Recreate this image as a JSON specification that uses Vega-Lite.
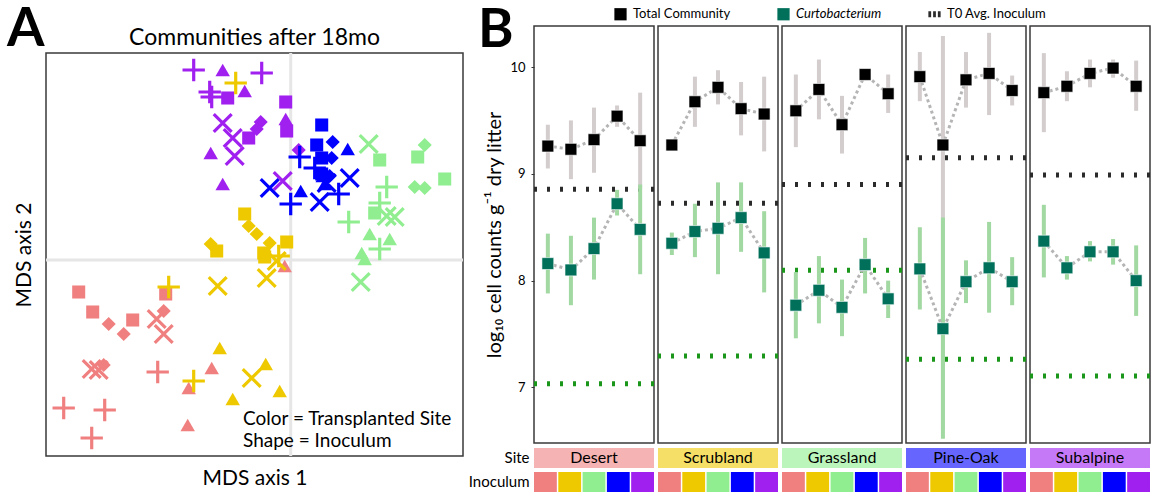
{
  "$schema": "https://vega.github.io/schema/vega-lite/v6.json",
  "padding": {"left": 6, "top": 2, "right": 0, "bottom": 0},
  "config": {
    "font": "Lato",
    "view": {"stroke": "#3a3a3a", "strokeWidth": 1.5},
    "axis": {"labelColor": "#000000", "titleColor": "#000000"},
    "title": {"color": "#000000"},
    "legend": {"labelColor": "#000000", "titleColor": "#000000"}
  },
  "datasets": {
    "mds": [
      {"site":"Subalpine","inoc":"Pine-Oak","mds1":-0.97,"mds2":1.90},
      {"site":"Subalpine","inoc":"Grassland","mds1":-0.68,"mds2":1.90},
      {"site":"Subalpine","inoc":"Pine-Oak","mds1":-0.29,"mds2":1.87},
      {"site":"Subalpine","inoc":"Pine-Oak","mds1":-0.81,"mds2":1.68},
      {"site":"Subalpine","inoc":"Pine-Oak","mds1":-0.79,"mds2":1.63},
      {"site":"Subalpine","inoc":"Desert","mds1":-0.63,"mds2":1.62},
      {"site":"Subalpine","inoc":"Grassland","mds1":-0.46,"mds2":1.69},
      {"site":"Subalpine","inoc":"Desert","mds1":-0.05,"mds2":1.58},
      {"site":"Subalpine","inoc":"Subalpine","mds1":-0.68,"mds2":1.37},
      {"site":"Subalpine","inoc":"Scrubland","mds1":-0.30,"mds2":1.38},
      {"site":"Subalpine","inoc":"Scrubland","mds1":-0.34,"mds2":1.31},
      {"site":"Subalpine","inoc":"Grassland","mds1":-0.05,"mds2":1.41},
      {"site":"Subalpine","inoc":"Desert","mds1":-0.04,"mds2":1.29},
      {"site":"Subalpine","inoc":"Subalpine","mds1":-0.58,"mds2":1.22},
      {"site":"Subalpine","inoc":"Desert","mds1":-0.42,"mds2":1.22},
      {"site":"Subalpine","inoc":"Grassland","mds1":-0.80,"mds2":1.07},
      {"site":"Subalpine","inoc":"Subalpine","mds1":-0.56,"mds2":1.04},
      {"site":"Subalpine","inoc":"Grassland","mds1":-0.68,"mds2":0.76},
      {"site":"Subalpine","inoc":"Subalpine","mds1":-0.08,"mds2":0.79},
      {"site":"Subalpine","inoc":"Scrubland","mds1":0.08,"mds2":1.10},
      {"site":"Pine-Oak","inoc":"Desert","mds1":0.31,"mds2":1.35},
      {"site":"Pine-Oak","inoc":"Desert","mds1":0.26,"mds2":1.15},
      {"site":"Pine-Oak","inoc":"Scrubland","mds1":0.42,"mds2":1.18},
      {"site":"Pine-Oak","inoc":"Grassland","mds1":0.57,"mds2":1.11},
      {"site":"Pine-Oak","inoc":"Pine-Oak","mds1":0.09,"mds2":1.03},
      {"site":"Pine-Oak","inoc":"Desert","mds1":0.31,"mds2":1.02},
      {"site":"Pine-Oak","inoc":"Scrubland","mds1":0.41,"mds2":1.02},
      {"site":"Pine-Oak","inoc":"Pine-Oak","mds1":0.24,"mds2":0.92},
      {"site":"Pine-Oak","inoc":"Desert","mds1":0.31,"mds2":0.86},
      {"site":"Pine-Oak","inoc":"Grassland","mds1":0.32,"mds2":0.84},
      {"site":"Pine-Oak","inoc":"Grassland","mds1":0.34,"mds2":0.76},
      {"site":"Pine-Oak","inoc":"Subalpine","mds1":0.59,"mds2":0.82},
      {"site":"Pine-Oak","inoc":"Subalpine","mds1":-0.21,"mds2":0.72},
      {"site":"Pine-Oak","inoc":"Grassland","mds1":0.10,"mds2":0.69},
      {"site":"Pine-Oak","inoc":"Subalpine","mds1":0.36,"mds2":0.77},
      {"site":"Pine-Oak","inoc":"Pine-Oak","mds1":0.48,"mds2":0.66},
      {"site":"Pine-Oak","inoc":"Subalpine","mds1":0.29,"mds2":0.58},
      {"site":"Pine-Oak","inoc":"Pine-Oak","mds1":0.00,"mds2":0.56},
      {"site":"Pine-Oak","inoc":"Scrubland","mds1":0.39,"mds2":0.84},
      {"site":"Grassland","inoc":"Subalpine","mds1":0.78,"mds2":1.16},
      {"site":"Grassland","inoc":"Desert","mds1":0.89,"mds2":1.00},
      {"site":"Grassland","inoc":"Desert","mds1":1.27,"mds2":1.03},
      {"site":"Grassland","inoc":"Scrubland","mds1":1.34,"mds2":1.15},
      {"site":"Grassland","inoc":"Desert","mds1":1.54,"mds2":0.81},
      {"site":"Grassland","inoc":"Scrubland","mds1":1.24,"mds2":0.73},
      {"site":"Grassland","inoc":"Scrubland","mds1":1.34,"mds2":0.72},
      {"site":"Grassland","inoc":"Pine-Oak","mds1":0.96,"mds2":0.73},
      {"site":"Grassland","inoc":"Pine-Oak","mds1":0.58,"mds2":0.38},
      {"site":"Grassland","inoc":"Desert","mds1":0.84,"mds2":0.47},
      {"site":"Grassland","inoc":"Pine-Oak","mds1":0.89,"mds2":0.57},
      {"site":"Grassland","inoc":"Subalpine","mds1":0.96,"mds2":0.44},
      {"site":"Grassland","inoc":"Subalpine","mds1":1.04,"mds2":0.43},
      {"site":"Grassland","inoc":"Grassland","mds1":0.79,"mds2":0.26},
      {"site":"Grassland","inoc":"Grassland","mds1":0.99,"mds2":0.21},
      {"site":"Grassland","inoc":"Pine-Oak","mds1":0.89,"mds2":0.11},
      {"site":"Grassland","inoc":"Grassland","mds1":0.71,"mds2":0.07},
      {"site":"Grassland","inoc":"Grassland","mds1":0.74,"mds2":0.01},
      {"site":"Grassland","inoc":"Subalpine","mds1":0.70,"mds2":-0.22},
      {"site":"Scrubland","inoc":"Pine-Oak","mds1":-0.55,"mds2":1.77},
      {"site":"Scrubland","inoc":"Desert","mds1":-0.46,"mds2":0.46},
      {"site":"Scrubland","inoc":"Scrubland","mds1":-0.42,"mds2":0.34},
      {"site":"Scrubland","inoc":"Scrubland","mds1":-0.34,"mds2":0.26},
      {"site":"Scrubland","inoc":"Scrubland","mds1":-0.80,"mds2":0.16},
      {"site":"Scrubland","inoc":"Desert","mds1":-0.74,"mds2":0.09},
      {"site":"Scrubland","inoc":"Desert","mds1":-0.04,"mds2":0.18},
      {"site":"Scrubland","inoc":"Scrubland","mds1":-0.21,"mds2":0.17},
      {"site":"Scrubland","inoc":"Desert","mds1":-0.27,"mds2":0.07},
      {"site":"Scrubland","inoc":"Desert","mds1":-0.26,"mds2":0.03},
      {"site":"Scrubland","inoc":"Pine-Oak","mds1":-0.12,"mds2":0.04},
      {"site":"Scrubland","inoc":"Subalpine","mds1":-0.14,"mds2":-0.01},
      {"site":"Scrubland","inoc":"Pine-Oak","mds1":-1.22,"mds2":-0.27},
      {"site":"Scrubland","inoc":"Subalpine","mds1":-0.73,"mds2":-0.26},
      {"site":"Scrubland","inoc":"Subalpine","mds1":-0.24,"mds2":-0.18},
      {"site":"Scrubland","inoc":"Grassland","mds1":-0.71,"mds2":-0.88},
      {"site":"Scrubland","inoc":"Grassland","mds1":-0.25,"mds2":-1.04},
      {"site":"Scrubland","inoc":"Subalpine","mds1":-0.39,"mds2":-1.18},
      {"site":"Scrubland","inoc":"Pine-Oak","mds1":-0.97,"mds2":-1.21},
      {"site":"Scrubland","inoc":"Grassland","mds1":-0.58,"mds2":-1.39},
      {"site":"Scrubland","inoc":"Grassland","mds1":-0.11,"mds2":-1.31},
      {"site":"Desert","inoc":"Grassland","mds1":-0.06,"mds2":-0.06},
      {"site":"Desert","inoc":"Desert","mds1":-2.12,"mds2":-0.32},
      {"site":"Desert","inoc":"Desert","mds1":-1.98,"mds2":-0.52},
      {"site":"Desert","inoc":"Desert","mds1":-1.25,"mds2":-0.34},
      {"site":"Desert","inoc":"Scrubland","mds1":-1.82,"mds2":-0.64},
      {"site":"Desert","inoc":"Desert","mds1":-1.58,"mds2":-0.60},
      {"site":"Desert","inoc":"Scrubland","mds1":-1.67,"mds2":-0.74},
      {"site":"Desert","inoc":"Subalpine","mds1":-1.34,"mds2":-0.59},
      {"site":"Desert","inoc":"Scrubland","mds1":-1.27,"mds2":-0.51},
      {"site":"Desert","inoc":"Subalpine","mds1":-1.27,"mds2":-0.74},
      {"site":"Desert","inoc":"Subalpine","mds1":-1.99,"mds2":-1.09},
      {"site":"Desert","inoc":"Subalpine","mds1":-1.92,"mds2":-1.10},
      {"site":"Desert","inoc":"Scrubland","mds1":-1.87,"mds2":-1.05},
      {"site":"Desert","inoc":"Pine-Oak","mds1":-1.33,"mds2":-1.12},
      {"site":"Desert","inoc":"Grassland","mds1":-0.79,"mds2":-1.08},
      {"site":"Desert","inoc":"Grassland","mds1":-1.02,"mds2":-1.28},
      {"site":"Desert","inoc":"Pine-Oak","mds1":-2.27,"mds2":-1.48},
      {"site":"Desert","inoc":"Pine-Oak","mds1":-1.86,"mds2":-1.50},
      {"site":"Desert","inoc":"Pine-Oak","mds1":-1.99,"mds2":-1.78},
      {"site":"Desert","inoc":"Grassland","mds1":-1.03,"mds2":-1.65}
    ],
    "cells": [
      {"site":"Desert","inoc":"Desert","series":"Total Community","mean":9.26,"lo":9.05,"hi":9.46},
      {"site":"Desert","inoc":"Scrubland","series":"Total Community","mean":9.23,"lo":8.95,"hi":9.50},
      {"site":"Desert","inoc":"Grassland","series":"Total Community","mean":9.32,"lo":9.01,"hi":9.62},
      {"site":"Desert","inoc":"Pine-Oak","series":"Total Community","mean":9.54,"lo":9.44,"hi":9.64},
      {"site":"Desert","inoc":"Subalpine","series":"Total Community","mean":9.31,"lo":8.86,"hi":9.76},
      {"site":"Desert","inoc":"Desert","series":"Curtobacterium","mean":8.16,"lo":7.88,"hi":8.44},
      {"site":"Desert","inoc":"Scrubland","series":"Curtobacterium","mean":8.10,"lo":7.77,"hi":8.42},
      {"site":"Desert","inoc":"Grassland","series":"Curtobacterium","mean":8.30,"lo":8.01,"hi":8.59},
      {"site":"Desert","inoc":"Pine-Oak","series":"Curtobacterium","mean":8.72,"lo":8.61,"hi":8.85},
      {"site":"Desert","inoc":"Subalpine","series":"Curtobacterium","mean":8.48,"lo":8.06,"hi":8.90},
      {"site":"Scrubland","inoc":"Desert","series":"Total Community","mean":9.27,"lo":9.25,"hi":9.29},
      {"site":"Scrubland","inoc":"Scrubland","series":"Total Community","mean":9.675,"lo":9.44,"hi":9.91},
      {"site":"Scrubland","inoc":"Grassland","series":"Total Community","mean":9.81,"lo":9.65,"hi":9.97},
      {"site":"Scrubland","inoc":"Pine-Oak","series":"Total Community","mean":9.61,"lo":9.36,"hi":9.86},
      {"site":"Scrubland","inoc":"Subalpine","series":"Total Community","mean":9.56,"lo":9.21,"hi":9.91},
      {"site":"Scrubland","inoc":"Desert","series":"Curtobacterium","mean":8.35,"lo":8.24,"hi":8.45},
      {"site":"Scrubland","inoc":"Scrubland","series":"Curtobacterium","mean":8.46,"lo":8.22,"hi":8.72},
      {"site":"Scrubland","inoc":"Grassland","series":"Curtobacterium","mean":8.49,"lo":8.06,"hi":8.92},
      {"site":"Scrubland","inoc":"Pine-Oak","series":"Curtobacterium","mean":8.59,"lo":8.27,"hi":8.92},
      {"site":"Scrubland","inoc":"Subalpine","series":"Curtobacterium","mean":8.26,"lo":7.89,"hi":8.65},
      {"site":"Grassland","inoc":"Desert","series":"Total Community","mean":9.59,"lo":9.25,"hi":9.93},
      {"site":"Grassland","inoc":"Scrubland","series":"Total Community","mean":9.79,"lo":9.51,"hi":10.07},
      {"site":"Grassland","inoc":"Grassland","series":"Total Community","mean":9.46,"lo":9.19,"hi":9.73},
      {"site":"Grassland","inoc":"Pine-Oak","series":"Total Community","mean":9.93,"lo":9.91,"hi":9.95},
      {"site":"Grassland","inoc":"Subalpine","series":"Total Community","mean":9.75,"lo":9.57,"hi":9.93},
      {"site":"Grassland","inoc":"Desert","series":"Curtobacterium","mean":7.77,"lo":7.46,"hi":8.08},
      {"site":"Grassland","inoc":"Scrubland","series":"Curtobacterium","mean":7.91,"lo":7.60,"hi":8.23},
      {"site":"Grassland","inoc":"Grassland","series":"Curtobacterium","mean":7.75,"lo":7.48,"hi":8.01},
      {"site":"Grassland","inoc":"Pine-Oak","series":"Curtobacterium","mean":8.15,"lo":7.88,"hi":8.40},
      {"site":"Grassland","inoc":"Subalpine","series":"Curtobacterium","mean":7.83,"lo":7.65,"hi":8.00},
      {"site":"Pine-Oak","inoc":"Desert","series":"Total Community","mean":9.91,"lo":9.68,"hi":10.14},
      {"site":"Pine-Oak","inoc":"Scrubland","series":"Total Community","mean":9.27,"lo":6.60,"hi":10.29},
      {"site":"Pine-Oak","inoc":"Grassland","series":"Total Community","mean":9.88,"lo":9.62,"hi":10.14},
      {"site":"Pine-Oak","inoc":"Pine-Oak","series":"Total Community","mean":9.94,"lo":9.55,"hi":10.32},
      {"site":"Pine-Oak","inoc":"Subalpine","series":"Total Community","mean":9.78,"lo":9.64,"hi":9.92},
      {"site":"Pine-Oak","inoc":"Desert","series":"Curtobacterium","mean":8.11,"lo":7.73,"hi":8.50},
      {"site":"Pine-Oak","inoc":"Scrubland","series":"Curtobacterium","mean":7.55,"lo":6.52,"hi":8.59},
      {"site":"Pine-Oak","inoc":"Grassland","series":"Curtobacterium","mean":7.99,"lo":7.79,"hi":8.19},
      {"site":"Pine-Oak","inoc":"Pine-Oak","series":"Curtobacterium","mean":8.12,"lo":7.70,"hi":8.55},
      {"site":"Pine-Oak","inoc":"Subalpine","series":"Curtobacterium","mean":7.99,"lo":7.77,"hi":8.22},
      {"site":"Subalpine","inoc":"Desert","series":"Total Community","mean":9.76,"lo":9.39,"hi":10.13},
      {"site":"Subalpine","inoc":"Scrubland","series":"Total Community","mean":9.82,"lo":9.68,"hi":9.96},
      {"site":"Subalpine","inoc":"Grassland","series":"Total Community","mean":9.94,"lo":9.81,"hi":10.07},
      {"site":"Subalpine","inoc":"Pine-Oak","series":"Total Community","mean":9.99,"lo":9.90,"hi":10.07},
      {"site":"Subalpine","inoc":"Subalpine","series":"Total Community","mean":9.82,"lo":9.59,"hi":10.06},
      {"site":"Subalpine","inoc":"Desert","series":"Curtobacterium","mean":8.37,"lo":8.03,"hi":8.71},
      {"site":"Subalpine","inoc":"Scrubland","series":"Curtobacterium","mean":8.12,"lo":8.01,"hi":8.23},
      {"site":"Subalpine","inoc":"Grassland","series":"Curtobacterium","mean":8.27,"lo":8.18,"hi":8.37},
      {"site":"Subalpine","inoc":"Pine-Oak","series":"Curtobacterium","mean":8.27,"lo":8.15,"hi":8.39},
      {"site":"Subalpine","inoc":"Subalpine","series":"Curtobacterium","mean":8.00,"lo":7.67,"hi":8.33},
      {"site":"Desert","series":"Total Community","t0":8.855},
      {"site":"Desert","series":"Curtobacterium","t0":7.035},
      {"site":"Scrubland","series":"Total Community","t0":8.724},
      {"site":"Scrubland","series":"Curtobacterium","t0":7.294},
      {"site":"Grassland","series":"Total Community","t0":8.90},
      {"site":"Grassland","series":"Curtobacterium","t0":8.097},
      {"site":"Pine-Oak","series":"Total Community","t0":9.15},
      {"site":"Pine-Oak","series":"Curtobacterium","t0":7.263},
      {"site":"Subalpine","series":"Total Community","t0":8.989},
      {"site":"Subalpine","series":"Curtobacterium","t0":7.107}
    ],
    "sites": [
      {"site":"Desert"},{"site":"Scrubland"},{"site":"Grassland"},{"site":"Pine-Oak"},{"site":"Subalpine"}
    ],
    "grid": [
      {"site":"Desert","inoc":"Desert"},{"site":"Desert","inoc":"Scrubland"},{"site":"Desert","inoc":"Grassland"},{"site":"Desert","inoc":"Pine-Oak"},{"site":"Desert","inoc":"Subalpine"},
      {"site":"Scrubland","inoc":"Desert"},{"site":"Scrubland","inoc":"Scrubland"},{"site":"Scrubland","inoc":"Grassland"},{"site":"Scrubland","inoc":"Pine-Oak"},{"site":"Scrubland","inoc":"Subalpine"},
      {"site":"Grassland","inoc":"Desert"},{"site":"Grassland","inoc":"Scrubland"},{"site":"Grassland","inoc":"Grassland"},{"site":"Grassland","inoc":"Pine-Oak"},{"site":"Grassland","inoc":"Subalpine"},
      {"site":"Pine-Oak","inoc":"Desert"},{"site":"Pine-Oak","inoc":"Scrubland"},{"site":"Pine-Oak","inoc":"Grassland"},{"site":"Pine-Oak","inoc":"Pine-Oak"},{"site":"Pine-Oak","inoc":"Subalpine"},
      {"site":"Subalpine","inoc":"Desert"},{"site":"Subalpine","inoc":"Scrubland"},{"site":"Subalpine","inoc":"Grassland"},{"site":"Subalpine","inoc":"Pine-Oak"},{"site":"Subalpine","inoc":"Subalpine"}
    ]
  },
  "resolve": {"scale": {"color": "independent", "x": "independent", "y": "independent", "fill": "independent"}},
  "spacing": 2,
  "hconcat": [
    {
      "spacing": 4,
      "bounds": "flush",
      "vconcat": [
        {
          "width": 417,
          "height": 23,
          "view": {"stroke": null},
          "data": {"values": [{}]},
          "title": {"text": "A", "orient": "left", "angle": 0, "align": "right", "baseline": "alphabetic", "anchor": "middle", "fontSize": 54, "fontWeight": "bold", "offset": -36, "dy": 8},
          "mark": {"type": "text", "text": "Communities after 18mo", "fontSize": 23, "baseline": "middle", "color": "#000000"}
        },
        {
          "width": 417,
          "height": 403,
          "layer": [
            {
              "data": {"values": [{}]},
              "mark": {"type": "rule", "color": "#e6e6e6", "strokeWidth": 3},
              "encoding": {
                "x": {"datum": 0, "type": "quantitative", "title": "MDS axis 1", "scale": {"domain": [-2.447, 1.723], "nice": false, "zero": false},
                      "axis": {"labels": false, "ticks": false, "domain": false, "grid": false, "titleFontSize": 21, "titleFontWeight": "normal", "titlePadding": 11}}
              }
            },
            {
              "data": {"values": [{}]},
              "mark": {"type": "rule", "color": "#e6e6e6", "strokeWidth": 3},
              "encoding": {
                "y": {"datum": 0, "type": "quantitative", "title": "MDS axis 2", "scale": {"domain": [-1.96, 2.07], "nice": false, "zero": false},
                      "axis": {"labels": false, "ticks": false, "domain": false, "grid": false, "titleFontSize": 21, "titleFontWeight": "normal", "titlePadding": 12}}
              }
            },
            {
              "data": {"name": "mds"},
              "transform": [{"filter": "datum.inoc == 'Desert'"}],
              "mark": {"type": "point", "shape": "square", "filled": true, "opacity": 1, "size": 170},
              "encoding": {
                "x": {"field": "mds1", "type": "quantitative", "title": "MDS axis 1"},
                "y": {"field": "mds2", "type": "quantitative", "title": "MDS axis 2"},
                "color": {"field": "site", "type": "nominal", "scale": {"domain": ["Desert","Scrubland","Grassland","Pine-Oak","Subalpine"], "range": ["#F08080","#EEC900","#90EE90","#0000FF","#A020F0"]}, "legend": null}
              }
            },
            {
              "data": {"name": "mds"},
              "transform": [{"filter": "datum.inoc == 'Scrubland'"}],
              "mark": {"type": "point", "shape": "diamond", "filled": true, "opacity": 1, "size": 200},
              "encoding": {
                "x": {"field": "mds1", "type": "quantitative", "title": "MDS axis 1"},
                "y": {"field": "mds2", "type": "quantitative", "title": "MDS axis 2"},
                "color": {"field": "site", "type": "nominal", "legend": null}
              }
            },
            {
              "data": {"name": "mds"},
              "transform": [{"filter": "datum.inoc == 'Grassland'"}],
              "mark": {"type": "point", "shape": "triangle-up", "filled": true, "opacity": 1, "size": 210},
              "encoding": {
                "x": {"field": "mds1", "type": "quantitative", "title": "MDS axis 1"},
                "y": {"field": "mds2", "type": "quantitative", "title": "MDS axis 2"},
                "color": {"field": "site", "type": "nominal", "legend": null}
              }
            },
            {
              "data": {"name": "mds"},
              "transform": [{"filter": "datum.inoc == 'Pine-Oak'"}],
              "mark": {"type": "point", "shape": "M-1,0H1M0,-1V1", "filled": false, "opacity": 1, "size": 500, "strokeWidth": 3.2},
              "encoding": {
                "x": {"field": "mds1", "type": "quantitative", "title": "MDS axis 1"},
                "y": {"field": "mds2", "type": "quantitative", "title": "MDS axis 2"},
                "color": {"field": "site", "type": "nominal", "legend": null}
              }
            },
            {
              "data": {"name": "mds"},
              "transform": [{"filter": "datum.inoc == 'Subalpine'"}],
              "mark": {"type": "point", "shape": "M-0.8,-0.8L0.8,0.8M-0.8,0.8L0.8,-0.8", "filled": false, "opacity": 1, "size": 500, "strokeWidth": 3.2},
              "encoding": {
                "x": {"field": "mds1", "type": "quantitative", "title": "MDS axis 1"},
                "y": {"field": "mds2", "type": "quantitative", "title": "MDS axis 2"},
                "color": {"field": "site", "type": "nominal", "legend": null}
              }
            },
            {
              "data": {"values": [{}]},
              "mark": {"type": "text", "align": "left", "baseline": "middle", "fontSize": 19, "lineHeight": 22, "color": "#000000"},
              "encoding": {
                "x": {"datum": -0.477, "type": "quantitative"},
                "y": {"datum": -1.59, "type": "quantitative"},
                "text": {"value": ["Color = Transplanted Site", "Shape = Inoculum"]}
              }
            }
          ]
        }
      ]
    },
    {
      "resolve": {"scale": {"x": "independent", "y": "independent", "fill": "independent", "color": "independent"}},
      "spacing": 4,
      "vconcat": [
        {
          "data": {"name": "cells"},
          "facet": {"column": {"field": "site", "type": "nominal", "sort": ["Desert","Scrubland","Grassland","Pine-Oak","Subalpine"], "header": null}},
          "spacing": {"column": 4},
          "bounds": "flush",
          "spec": {
            "width": 120,
            "height": 417,
            "layer": [
              {
                "transform": [{"filter": "isValid(datum.t0) && datum.series == 'Total Community'"}],
                "mark": {"type": "rule", "strokeDash": [3, 10], "strokeWidth": 5, "color": "#2b2b2b"},
                "encoding": {
                  "y": {"field": "t0", "type": "quantitative", "title": "log₁₀ cell counts g⁻¹ dry litter",
                        "scale": {"domain": [6.48, 10.384], "nice": false, "zero": false},
                        "axis": {"values": [7, 8, 9, 10], "format": "d", "grid": false, "domain": false, "tickSize": 3, "tickColor": "#333333", "labelFontSize": 13, "labelPadding": 6, "titleFontSize": 20, "titleFontWeight": "normal", "titlePadding": 5}}
                }
              },
              {
                "transform": [{"filter": "isValid(datum.t0) && datum.series == 'Curtobacterium'"}],
                "mark": {"type": "rule", "strokeDash": [3, 10], "strokeWidth": 5, "color": "#1a961a"},
                "encoding": {
                  "y": {"field": "t0", "type": "quantitative", "title": "log₁₀ cell counts g⁻¹ dry litter"}
                }
              },
              {
                "transform": [{"filter": "isValid(datum.mean) && datum.series == 'Total Community'"}],
                "mark": {"type": "rule", "strokeWidth": 4, "color": "#d3cdcd"},
                "encoding": {
                  "x": {"field": "inoc", "type": "nominal", "sort": ["Desert","Scrubland","Grassland","Pine-Oak","Subalpine"], "scale": {"type": "point", "padding": 0.6}, "axis": null},
                  "y": {"field": "lo", "type": "quantitative", "title": "log₁₀ cell counts g⁻¹ dry litter"},
                  "y2": {"field": "hi"}
                }
              },
              {
                "transform": [{"filter": "isValid(datum.mean) && datum.series == 'Curtobacterium'"}],
                "mark": {"type": "rule", "strokeWidth": 4, "color": "#a2d8a2"},
                "encoding": {
                  "x": {"field": "inoc", "type": "nominal", "sort": ["Desert","Scrubland","Grassland","Pine-Oak","Subalpine"], "axis": null},
                  "y": {"field": "lo", "type": "quantitative", "title": "log₁₀ cell counts g⁻¹ dry litter"},
                  "y2": {"field": "hi"}
                }
              },
              {
                "transform": [{"filter": "isValid(datum.mean)"}],
                "mark": {"type": "line", "strokeDash": [3, 3], "strokeWidth": 3, "color": "#b5b5b5"},
                "encoding": {
                  "x": {"field": "inoc", "type": "nominal", "sort": ["Desert","Scrubland","Grassland","Pine-Oak","Subalpine"], "axis": null},
                  "y": {"field": "mean", "type": "quantitative", "title": "log₁₀ cell counts g⁻¹ dry litter"},
                  "detail": {"field": "series", "type": "nominal"},
                  "order": {"value": null}
                }
              },
              {
                "transform": [{"filter": "isValid(datum.mean)"}],
                "mark": {"type": "point", "shape": "square", "filled": true, "opacity": 1, "size": 140, "stroke": "#ffffff", "strokeWidth": 0.6},
                "encoding": {
                  "x": {"field": "inoc", "type": "nominal", "sort": ["Desert","Scrubland","Grassland","Pine-Oak","Subalpine"], "axis": null},
                  "y": {"field": "mean", "type": "quantitative", "title": "log₁₀ cell counts g⁻¹ dry litter"},
                  "color": {"field": "series", "type": "nominal",
                            "scale": {"domain": ["Total Community", "Curtobacterium", "T0 Avg. Inoculum"], "range": ["#000000", "#00705a", "#2b2b2b"]},
                            "legend": {"title": "B", "titleOrient": "left", "titleFontSize": 54, "titleFontWeight": "bold", "titlePadding": 100, "titleBaseline": "line-top", "titleLineHeight": 47, "titleAnchor": "start", "titleLimit": 200,
                                       "orient": "none", "legendX": -56, "legendY": -18.5, "direction": "horizontal", "columns": 3, "symbolSize": 150, "labelFontSize": 13, "labelOffset": 6, "columnPadding": 46, "symbolStrokeWidth": 0,
                                       "symbolType": {"expr": "datum.value == 'T0 Avg. Inoculum' ? 'M-1,-0.5H-0.55V0.5H-1Z M-0.225,-0.5H0.225V0.5H-0.225Z M0.55,-0.5H1V0.5H0.55Z' : 'square'"},
                                       "labelFontStyle": {"expr": "datum.label == 'Curtobacterium' ? 'italic' : 'normal'"}}}
                }
              }
            ]
          }
        },
        {
          "data": {"name": "sites"},
          "width": 616,
          "height": 20,
          "view": {"stroke": null},
          "layer": [
            {
              "mark": {"type": "rect"},
              "encoding": {
                "x": {"field": "site", "type": "nominal", "sort": ["Desert","Scrubland","Grassland","Pine-Oak","Subalpine"], "scale": {"paddingInner": 0.0323, "paddingOuter": 0}, "axis": null},
                "y": {"datum": "Site", "type": "nominal", "axis": {"title": null, "domain": false, "ticks": false, "labelFontSize": 15, "labelPadding": 5}},
                "fill": {"field": "site", "type": "nominal", "scale": {"domain": ["Desert","Scrubland","Grassland","Pine-Oak","Subalpine"], "range": ["#F6B3B3","#F5DF66","#BCF5BC","#6666FF","#C679F6"]}, "legend": null}
              }
            },
            {
              "mark": {"type": "text", "fontSize": 16, "color": "#000000"},
              "encoding": {
                "x": {"field": "site", "type": "nominal", "sort": ["Desert","Scrubland","Grassland","Pine-Oak","Subalpine"]},
                "y": {"datum": "Site", "type": "nominal"},
                "text": {"field": "site"}
              }
            }
          ]
        },
        {
          "data": {"name": "grid"},
          "width": 616,
          "height": 20,
          "view": {"stroke": null},
          "mark": {"type": "rect"},
          "encoding": {
            "x": {"field": "site", "type": "nominal", "sort": ["Desert","Scrubland","Grassland","Pine-Oak","Subalpine"], "scale": {"paddingInner": 0.0323, "paddingOuter": 0}, "axis": null},
            "xOffset": {"field": "inoc", "type": "nominal", "sort": ["Desert","Scrubland","Grassland","Pine-Oak","Subalpine"], "scale": {"paddingInner": 0.06, "paddingOuter": 0}},
            "y": {"datum": "Inoculum", "type": "nominal", "axis": {"title": null, "domain": false, "ticks": false, "labelFontSize": 15, "labelPadding": 5}},
            "fill": {"field": "inoc", "type": "nominal", "scale": {"domain": ["Desert","Scrubland","Grassland","Pine-Oak","Subalpine"], "range": ["#F08080","#EEC900","#90EE90","#0000FF","#A020F0"]}, "legend": null}
          }
        }
      ]
    }
  ]
}
